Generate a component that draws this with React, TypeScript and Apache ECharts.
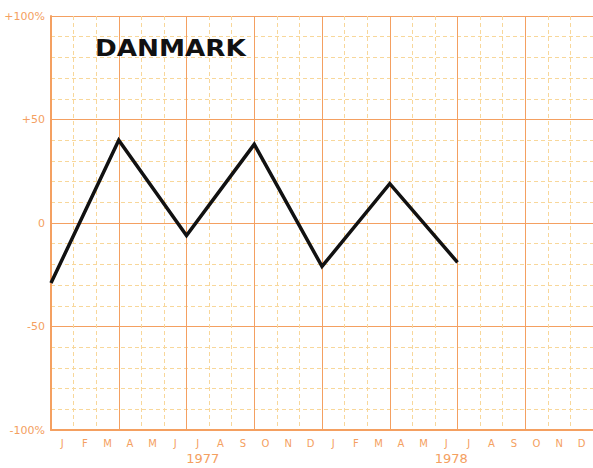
import React, { useEffect, useRef } from "react";
import * as echarts from "echarts";

const months = ["J","F","M","A","M","J","J","A","S","O","N","D","J","F","M","A","M","J","J","A","S","O","N","D"];
const yearLabels = ["", "", "", "", "", "", "1977", "", "", "", "", "", "", "", "", "", "", "1978", "", "", "", "", "", ""];
// quarter-end positions (month index boundaries) and values in %
const pointMonths = [0, 3, 6, 9, 12, 15, 18];
const pointValues = [-29, 40, -6, 38, -21, 19, -19];
const yTickLabels: Record<string, string> = { "100": "+100%", "50": "+50", "0": "0", "-50": "-50", "-100": "-100%" };
const titleText = "DANMARK";

const ORANGE = "#f4a061";
const LIGHT = "#f8d79a";

export default function App() {
  const ref = useRef<HTMLDivElement>(null);
  useEffect(() => {
    if (!ref.current) return;
    const chart = echarts.init(ref.current, undefined, { renderer: "svg" });
    chart.setOption({
      animation: false,
      backgroundColor: "#ffffff",
      grid: { left: 51, right: 0, top: 16, bottom: 38 },
      graphic: [
        {
          type: "text",
          x: 95,
          y: 37,
          scaleX: 1.14,
          z: 20,
          style: {
            text: titleText,
            font: "bold 23px 'DejaVu Sans'",
            fill: "#111",
          },
        },
      ],
      xAxis: [
        {
          type: "value",
          min: 0,
          max: 24,
          interval: 3,
          axisLine: { show: true, onZero: false, lineStyle: { color: ORANGE, width: 2 } },
          axisTick: { show: false },
          axisLabel: { show: false },
          splitLine: { show: true, lineStyle: { color: ORANGE, width: 1 } },
          minorTick: { show: false, splitNumber: 3 },
          minorSplitLine: { show: true, lineStyle: { color: LIGHT, width: 1, type: [4, 3] } },
        },
        {
          type: "category",
          data: months,
          boundaryGap: true,
          position: "bottom",
          axisLine: { show: false },
          axisTick: { show: false },
          splitLine: { show: false },
          axisLabel: { color: ORANGE, fontSize: 10, margin: 8, fontFamily: "DejaVu Sans", interval: 0 },
        },
        {
          type: "category",
          data: yearLabels,
          boundaryGap: true,
          position: "bottom",
          offset: 14,
          axisLine: { show: false },
          axisTick: { show: false },
          splitLine: { show: false },
          axisLabel: { color: ORANGE, fontSize: 13, margin: 8, fontFamily: "DejaVu Sans", interval: 0, padding: [0, 0, 0, 10] },
        },
      ],
      yAxis: {
        type: "value",
        min: -100,
        max: 100,
        interval: 50,
        axisLine: { show: true, onZero: false, lineStyle: { color: ORANGE, width: 2 } },
        axisTick: { show: false },
        axisLabel: {
          color: ORANGE,
          fontSize: 11,
          fontFamily: "DejaVu Sans",
          margin: 6,
          formatter: (v: number) => yTickLabels[String(v)] ?? "",
        },
        splitLine: { show: true, lineStyle: { color: ORANGE, width: 1 } },
        minorTick: { show: false, splitNumber: 5 },
        minorSplitLine: { show: true, lineStyle: { color: LIGHT, width: 1, type: [4, 3] } },
      },
      series: [
        {
          type: "line",
          xAxisIndex: 0,
          data: pointMonths.map((m, i) => [m, pointValues[i]]),
          showSymbol: false,
          lineStyle: { color: "#111", width: 3.5, join: "miter" },
          z: 10,
        },
      ],
    });
    return () => chart.dispose();
  }, []);
  return <div ref={ref} style={{ position: "fixed", left: 0, top: 0, width: 593, height: 468 }} />;
}
